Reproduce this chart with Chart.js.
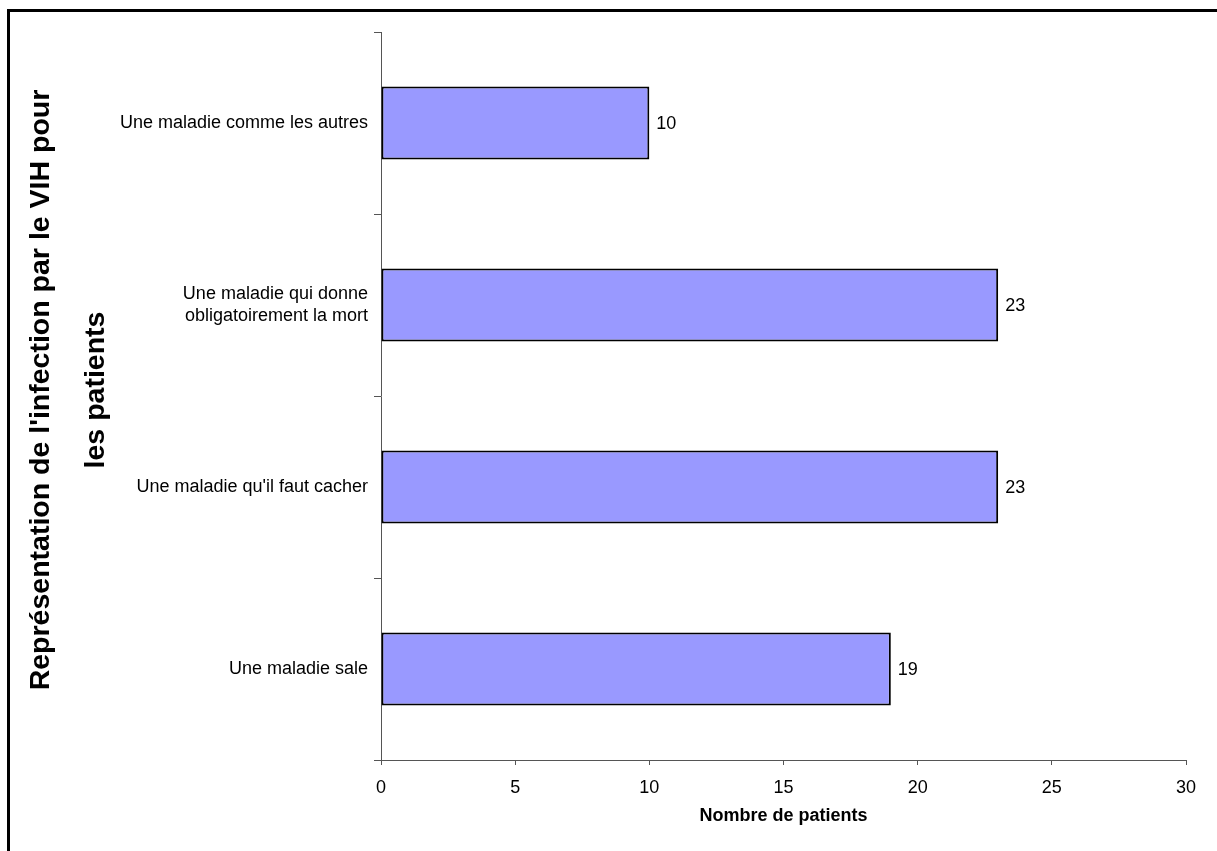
<!DOCTYPE html>
<html>
<head>
<meta charset="utf-8">
<script src="https://cdn.jsdelivr.net/npm/chart.js@4"></script>
<style>
  body { margin: 0; background: #fff; }
  #wrap { position: relative; width: 1217px; height: 851px; }
  #frame { position: absolute; left: 7px; top: 9px; right: 0; bottom: 0;
           border-left: 3px solid #000; border-top: 3px solid #000; pointer-events: none; }
  canvas { position: absolute; left: 0; top: 0; }
</style>
</head>
<body>
<div id="wrap">
  <canvas id="chart" width="1217" height="851"></canvas>
  <div id="frame"></div>
</div>
<script>
const categories = [
  "Une maladie comme les autres",
  ["Une maladie qui donne", "obligatoirement la mort"],
  "Une maladie qu'il faut cacher",
  "Une maladie sale"
];
const patients = [10, 23, 23, 19];
const xTicks = [0, 5, 10, 15, 20, 25, 30];
const yTitle = ["Représentation de l'infection par le VIH pour", "les patients"];
const xTitle = "Nombre de patients";

const FONT = "'Liberation Sans', Arial, sans-serif";

const extras = {
  id: "extras",
  afterDatasetsDraw(chart) {
    const ctx = chart.ctx;
    const meta = chart.getDatasetMeta(0);
    ctx.save();
    ctx.fillStyle = "#000";
    ctx.font = "18px " + FONT;
    ctx.textAlign = "left";
    ctx.textBaseline = "middle";
    meta.data.forEach((bar, i) => {
      ctx.fillText(String(patients[i]), bar.x + 7, bar.y + 1);
    });
    ctx.restore();
  },
  afterDraw(chart) {
    const ctx = chart.ctx;
    const area = chart.chartArea;
    ctx.save();
    ctx.fillStyle = "#000";
    ctx.font = "bold 18px " + FONT;
    ctx.textAlign = "center";
    ctx.textBaseline = "middle";
    ctx.fillText(xTitle, (area.left + area.right) / 2, 816);
    ctx.font = "bold 28.5px " + FONT;
    ctx.translate(41, 390);
    ctx.rotate(-Math.PI / 2);
    ctx.fillText(yTitle[0], 0, 0);
    ctx.fillText(yTitle[1], 0, 55);
    ctx.restore();
  }
};

new Chart(document.getElementById("chart"), {
  type: "bar",
  data: {
    labels: categories,
    datasets: [{
      data: patients,
      backgroundColor: "#9999FF",
      borderColor: "#000",
      borderWidth: 2,
      borderSkipped: false,
      barPercentage: 0.4,
      categoryPercentage: 1
    }]
  },
  options: {
    indexAxis: "y",
    responsive: false,
    animation: false,
    layout: { padding: { top: 32, right: 31, left: 0, bottom: 0 } },
    plugins: { legend: { display: false }, tooltip: { enabled: false } },
    scales: {
      x: {
        min: 0,
        max: 30,
        afterBuildTicks(scale) { scale.ticks = xTicks.map(v => ({ value: v })); },
        afterFit(scale) { scale.height = 91; },
        grid: { drawOnChartArea: false, tickLength: 5, color: "#555", tickColor: "#555" },
        border: { color: "#555", width: 1 },
        ticks: { color: "#000", font: { family: FONT, size: 18 }, padding: 12, maxRotation: 0 }
      },
      y: {
        afterFit(scale) { scale.width = 381; },
        grid: { offset: true, drawOnChartArea: false, tickLength: 7, color: "#555", tickColor: "#555" },
        border: { color: "#555", width: 1 },
        ticks: { color: "#000", font: { family: FONT, size: 18, lineHeight: 1.2 }, padding: 6 }
      }
    }
  },
  plugins: [extras]
});
</script>
</body>
</html>
